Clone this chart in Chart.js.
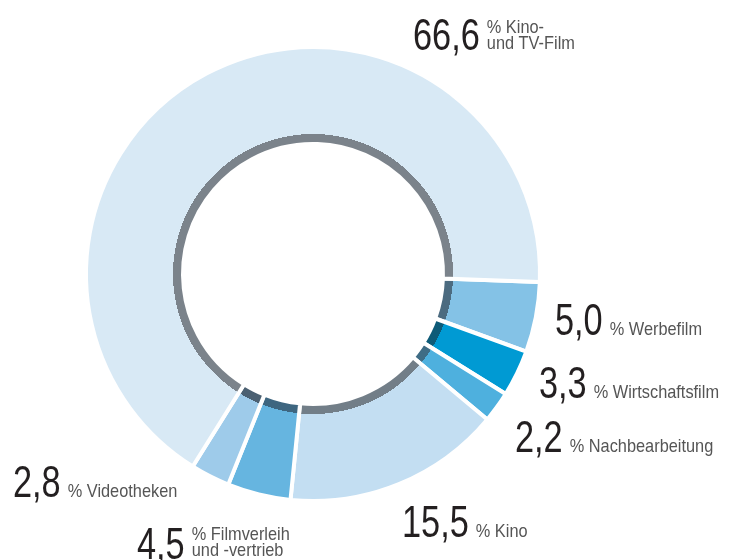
<!DOCTYPE html>
<html>
<head>
<meta charset="utf-8">
<title>Anteile</title>
<script src="https://cdn.jsdelivr.net/npm/chart.js@4.4.0/dist/chart.umd.min.js"></script>
<style>
    html, body { margin: 0; padding: 0; background: #fff; }
    #wrap { position: relative; width: 730px; height: 560px; }
</style>
</head>
<body>
<div id="wrap"><canvas id="ring" width="730" height="560"></canvas></div>
<script>
// Reihenfolge im Uhrzeigersinn, beginnend kurz unter 3 Uhr
const categories = ['Werbefilm', 'Wirtschaftsfilm', 'Nachbearbeitung', 'Kino', 'Filmverleih und -vertrieb', 'Videotheken', 'Kino- und TV-Film'];
const shares = [5.0, 3.3, 2.2, 15.5, 4.5, 2.8, 66.6];
const labelLines = [
    ['% Werbefilm'],
    ['% Wirtschaftsfilm'],
    ['% Nachbearbeitung'],
    ['% Kino'],
    ['% Filmverleih', 'und -vertrieb'],
    ['% Videotheken'],
    ['% Kino-', 'und TV-Film']
];

const segColors    = ['#84c2e6', '#009ad3', '#4eb0de', '#c3def2', '#66b5e0', '#9ecbea', '#d8e9f5'];
const stripeColors = ['#4c6b80', '#0e5b78', '#3f6c85', '#727e88', '#3e6680', '#4b6072', '#7b838b'];

// x = linke Kante der Zahl, y = Grundlinie der Zahl, ty = Grundlinie der letzten Textzeile
const labelPos = [
    { x: 555, y: 335, ty: 335 },
    { x: 539, y: 398, ty: 398 },
    { x: 515, y: 452, ty: 452 },
    { x: 402, y: 537, ty: 537 },
    { x: 137, y: 559, ty: 556 },
    { x: 13,  y: 497, ty: 497 },
    { x: 413, y: 50,  ty: 49 }
];

const FONT_FAMILY = '"Liberation Sans", Arimo, Arial, sans-serif';
const NUM_FONT = '44px ' + FONT_FAMILY;
const TXT_FONT = '19px ' + FONT_FAMILY;
const NUM_SCALE = 0.78;
const TXT_SCALE = 0.86;

function formatShare(v) {
    return v.toFixed(1).replace('.', ',');
}

// dunkler Innenstreifen je Segment
function ringFill(c) {
    const i = c.dataIndex;
    const chart = c.chart;
    const ctrl = chart.getDatasetMeta(c.datasetIndex).controller;
    const area = chart.chartArea;
    if (!area || !ctrl || !ctrl.outerRadius) return segColors[i];
    const cx = (area.left + area.right) / 2;
    const cy = (area.top + area.bottom) / 2;
    const r0 = ctrl.innerRadius, r1 = ctrl.outerRadius;
    const t = Math.min(1, 10 / (r1 - r0));
    const g = chart.ctx.createRadialGradient(cx, cy, r0, cx, cy, r1);
    g.addColorStop(0, stripeColors[i]);
    g.addColorStop(t, stripeColors[i]);
    g.addColorStop(t, segColors[i]);
    g.addColorStop(1, segColors[i]);
    return g;
}

// schmal gesetzter Text (Condensed-Schnitt nachgebildet)
function narrowText(ctx, text, x, y, scale) {
    ctx.save();
    ctx.translate(x, y);
    ctx.scale(scale, 1);
    ctx.fillText(text, 0, 0);
    ctx.restore();
    return ctx.measureText(text).width * scale;
}

const labelPlugin = {
    id: 'shareLabels',
    afterDraw(chart) {
        const ctx = chart.ctx;
        ctx.save();
        ctx.textBaseline = 'alphabetic';
        ctx.textAlign = 'left';
        shares.forEach((v, i) => {
            const p = labelPos[i];
            ctx.font = NUM_FONT;
            ctx.fillStyle = '#231f20';
            const w = narrowText(ctx, formatShare(v), p.x, p.y, NUM_SCALE);
            ctx.font = TXT_FONT;
            ctx.fillStyle = '#555555';
            const lines = labelLines[i];
            lines.forEach((line, k) => {
                const off = (lines.length - 1 - k) * 16;
                narrowText(ctx, line, p.x + w + 7, p.ty - off, TXT_SCALE);
            });
        });
        ctx.restore();
    }
};

document.addEventListener('DOMContentLoaded', function() {
    new Chart(document.getElementById('ring'), {
        type: 'doughnut',
        data: {
            labels: categories,
            datasets: [{
                data: shares,
                backgroundColor: ringFill,
                borderColor: '#ffffff',
                borderWidth: 4,
                hoverBorderWidth: 4,
                borderJoinStyle: 'bevel'
            }]
        },
        options: {
            responsive: false,
            animation: false,
            events: [],
            rotation: 92,
            radius: 227,
            cutout: 130,
            layout: { padding: { left: 84, right: 188, top: 45, bottom: 57 } },
            plugins: {
                legend: { display: false },
                tooltip: { enabled: false }
            }
        },
        plugins: [labelPlugin]
    });
});
</script>
</body>
</html>
